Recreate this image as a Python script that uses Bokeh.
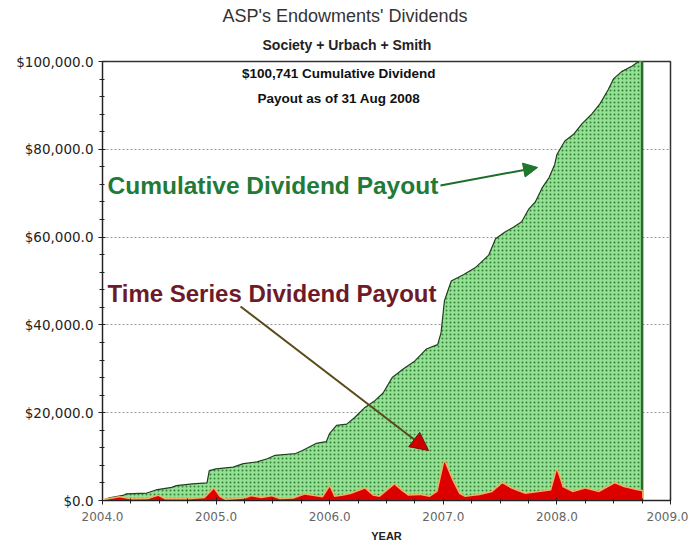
from bokeh.plotting import figure
from bokeh.models import (Range1d, NumeralTickFormatter, Label, Arrow, NormalHead,
                          SingleIntervalTicker, Title)
from bokeh.embed import file_html
from bokeh.resources import INLINE

# ---- data ----
cum_year = [2004.00, 2004.06, 2004.18, 2004.21, 2004.39, 2004.47, 2004.61, 2004.65, 2004.79,
            2004.92, 2004.94, 2005.00, 2005.15, 2005.24, 2005.36, 2005.45, 2005.52, 2005.70,
            2005.76, 2005.82, 2005.88, 2005.97, 2006.00, 2006.06, 2006.15, 2006.22, 2006.31,
            2006.40, 2006.47, 2006.55, 2006.65, 2006.75, 2006.85, 2006.95, 2006.98, 2007.01,
            2007.07, 2007.18, 2007.28, 2007.40, 2007.46, 2007.54, 2007.62, 2007.69, 2007.75,
            2007.81, 2007.87, 2007.93, 2007.98, 2008.00, 2008.07, 2008.15, 2008.22, 2008.31,
            2008.38, 2008.45, 2008.50, 2008.57, 2008.66, 2008.72, 2008.75]
cum_value = [0, 600, 1150, 1500, 1700, 2400, 3000, 3400, 3800,
             4000, 6800, 7200, 7600, 8400, 8800, 9500, 10300, 10700,
             11400, 12200, 13000, 13400, 15300, 17100, 17400, 18900, 21200,
             22800, 24500, 28000, 30000, 31800, 34500, 35500, 38200, 45500,
             50000, 51500, 53000, 55900, 59600, 61100, 62300, 63500, 66300,
             68000, 71200, 73500, 76500, 78800, 81900, 83500, 85800, 88100,
             90400, 93500, 96100, 97700, 98900, 100000, 100741]

div_year = [2004.00, 2004.06, 2004.15, 2004.25, 2004.40, 2004.49, 2004.55, 2004.75, 2004.90,
            2004.98, 2005.03, 2005.08, 2005.25, 2005.31, 2005.40, 2005.49, 2005.56, 2005.68,
            2005.78, 2005.88, 2005.94, 2006.00, 2006.04, 2006.12, 2006.19, 2006.31, 2006.38,
            2006.44, 2006.57, 2006.63, 2006.69, 2006.80, 2006.88, 2006.95, 2007.01, 2007.08,
            2007.14, 2007.19, 2007.32, 2007.43, 2007.52, 2007.60, 2007.72, 2007.84, 2007.95,
            2008.00, 2008.05, 2008.14, 2008.25, 2008.37, 2008.51, 2008.59, 2008.71, 2008.75,
            2008.75]
div_value = [0, 300, 700, 200, 300, 1000, 200, 200, 500,
             2600, 800, 100, 400, 900, 500, 900, 300, 400,
             1300, 900, 700, 3100, 800, 1100, 1500, 2700, 1100,
             800, 3600, 2200, 1100, 1200, 800, 2000, 8800, 4500,
             1500, 800, 1200, 1900, 3900, 2700, 1500, 1900, 2300,
             6900, 3000, 1900, 2700, 1900, 3900, 3000, 2300, 2100,
             0]

x_ticks = [2004, 2005, 2006, 2007, 2008, 2009]
y_ticks = [0, 20000, 40000, 60000, 80000, 100000]

title_text = "ASP's Endowments' Dividends"
subtitle_text = "Society + Urbach + Smith"
note_lines = ["$100,741 Cumulative Dividend", "Payout as of 31 Aug 2008"]
cum_label = "Cumulative Dividend Payout"
div_label = "Time Series Dividend Payout"

# ---- figure ----
p = figure(width=688, height=547, output_backend="svg", toolbar_location=None,
           x_range=Range1d(x_ticks[0], x_ticks[-1]), y_range=Range1d(y_ticks[0], y_ticks[-1]),
           min_border_left=102, min_border_right=18, min_border_top=61, min_border_bottom=47)
p.title.visible = False
p.background_fill_color = "white"
p.border_fill_color = "white"
p.outline_line_color = "#333333"
p.outline_line_width = 1.5

# titles (subtitle first = closest to the frame)
p.add_layout(Title(text=subtitle_text, align="left", text_font="Liberation Sans",
                   text_font_style="bold", text_font_size="14px", text_color="#222222",
                   standoff=18, offset=160), "above")
p.add_layout(Title(text=title_text, align="left", text_font="Liberation Sans",
                   text_font_style="normal", text_font_size="18px", text_color="#333333",
                   standoff=0, offset=120), "above")

# cumulative area (hatched green)
p.varea(x=cum_year, y1=0, y2=cum_value, fill_color="#94e094",
        hatch_pattern="dot", hatch_color="#2a7a2a", hatch_scale=4, hatch_weight=1,
        hatch_alpha=0.9)
p.line(x=cum_year, y=cum_value, line_color="#1f3f1f", line_width=1.2)
p.segment(x0=[cum_year[-1]], y0=[0], x1=[cum_year[-1]], y1=[cum_value[-1]],
          line_color="#2d6b2d", line_width=2.5)

# time-series dividends (red)
p.line(x=div_year, y=div_value, line_color="#f0b060", line_width=3)
p.varea(x=div_year, y1=0, y2=div_value, fill_color="#dd0000")

# axes
p.xaxis.ticker = SingleIntervalTicker(interval=1, num_minor_ticks=4)
p.yaxis.ticker = SingleIntervalTicker(interval=20000, num_minor_ticks=5)
p.xaxis.formatter = NumeralTickFormatter(format="0.0")
p.yaxis.formatter = NumeralTickFormatter(format="$0,0.0")
for ax in (p.xaxis, p.yaxis):
    ax.axis_line_color = "#222222"
    ax.major_tick_line_color = "#222222"
    ax.minor_tick_line_color = "#222222"
    ax.major_tick_in = 3
    ax.major_tick_out = 4
    ax.minor_tick_in = 2
    ax.minor_tick_out = 3
p.yaxis.major_label_text_font = "DejaVu Sans"
p.yaxis.major_label_text_font_size = "13.5px"
p.yaxis.major_label_text_color = "#222222"
p.yaxis.major_label_standoff = 5
p.xaxis.major_label_text_font = "DejaVu Sans"
p.xaxis.major_label_text_font_size = "12px"
p.xaxis.major_label_text_color = "#666666"
p.xaxis.major_label_standoff = 7
p.xaxis.axis_label = "YEAR"
p.xaxis.axis_label_text_font = "Liberation Sans"
p.xaxis.axis_label_text_font_style = "bold"
p.xaxis.axis_label_text_font_size = "11px"
p.xaxis.axis_label_text_color = "#222222"
p.xaxis.axis_label_standoff = 6

p.xgrid.grid_line_color = None
p.ygrid.grid_line_color = "#999999"
p.ygrid.grid_line_dash = "2 2"
p.ygrid.grid_line_width = 1

# notes
p.add_layout(Label(x=2006.08, y=97266, text=note_lines[0], text_align="center",
                   text_baseline="middle", text_font="Liberation Sans", text_font_style="bold",
                   text_font_size="13.5px", text_color="#111111"))
p.add_layout(Label(x=2006.08, y=91570, text=note_lines[1], text_align="center",
                   text_baseline="middle", text_font="Liberation Sans", text_font_style="bold",
                   text_font_size="13.5px", text_color="#111111"))

p.add_layout(Label(x=2004.044, y=71750, text=cum_label, text_align="left",
                   text_baseline="middle", text_font="Liberation Sans", text_font_style="bold",
                   text_font_size="24.5px", text_color="#237a37"))
p.add_layout(Label(x=2004.044, y=47150, text=div_label, text_align="left",
                   text_baseline="middle", text_font="Liberation Sans", text_font_style="bold",
                   text_font_size="24px", text_color="#6e1a28"))

# arrows
p.add_layout(Arrow(x_start=2006.975, y_start=71750, x_end=2007.83, y_end=75860,
                   line_color="#1e6e2a", line_width=2,
                   end=NormalHead(size=14, fill_color="#1e7a2a", line_color="#1e6e2a")))
p.add_layout(Arrow(x_start=2005.215, y_start=44190, x_end=2006.87, y_end=11390,
                   line_color="#5a4a1a", line_width=2,
                   end=NormalHead(size=18, fill_color="#cc0000", line_color="#7a1010")))

open("out.html", "w").write(file_html(p, INLINE))
